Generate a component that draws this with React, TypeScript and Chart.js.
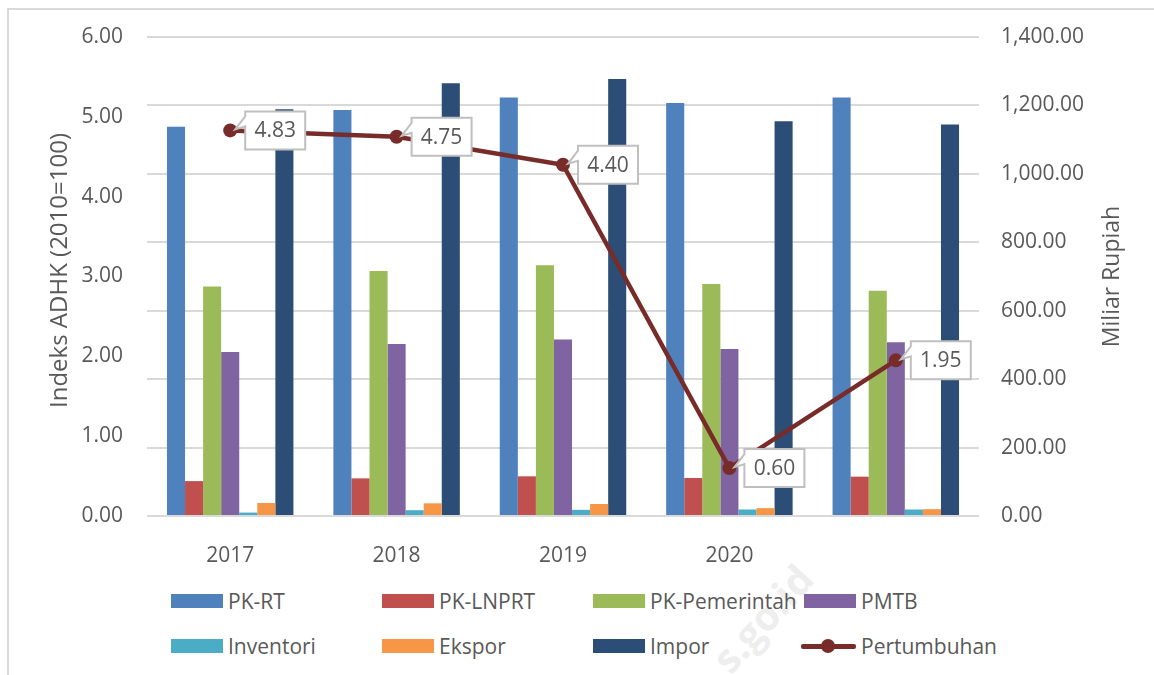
import React, { useEffect, useRef } from "react";
import { Chart, registerables } from "chart.js";

Chart.register(...registerables);

// ---- data ----
const categories = ["2017", "2018", "2019", "2020", ""];
const pkRT = [1138, 1187, 1223, 1207, 1223];
const pkLNPRT = [102, 110, 116, 111, 115];
const pkPemerintah = [671, 716, 733, 678, 658];
const pmtb = [479, 503, 516, 488, 508];
const inventori = [10, 17, 18, 19, 19];
const ekspor = [38, 37, 35, 23, 20];
const impor = [1189, 1265, 1277, 1154, 1144];
const pertumbuhan = [4.83, 4.75, 4.4, 0.6, 1.95];

const barNames = ["PK-RT", "PK-LNPRT", "PK-Pemerintah", "PMTB", "Inventori", "Ekspor", "Impor"];
const barSeries = [pkRT, pkLNPRT, pkPemerintah, pmtb, inventori, ekspor, impor];
const barColors = ["#4F81BD", "#C0504D", "#9BBB59", "#8064A2", "#4BACC6", "#F79646", "#2C4D75"];
const lineName = "Pertumbuhan";
const lineColor = "#772C2A";

const leftTitle = "Indeks ADHK (2010=100)";
const rightTitle = "Miliar Rupiah";

const FONT = "'Open Sans', sans-serif";
const TEXT = "#595959";

const axisTitlesPlugin = {
  id: "axisTitles",
  afterDraw(chart: any) {
    const ctx = chart.ctx;
    const area = chart.chartArea;
    const cy = (area.top + area.bottom) / 2;
    ctx.save();
    ctx.fillStyle = TEXT;
    ctx.font = `24px ${FONT}`;
    ctx.textAlign = "center";
    ctx.textBaseline = "middle";
    ctx.translate(60, cy - 6);
    ctx.rotate(-Math.PI / 2);
    ctx.fillText(leftTitle, 0, 0);
    ctx.restore();
    ctx.save();
    ctx.fillStyle = TEXT;
    ctx.font = `23px ${FONT}`;
    ctx.textAlign = "center";
    ctx.textBaseline = "middle";
    ctx.translate(1112, cy);
    ctx.rotate(-Math.PI / 2);
    ctx.fillText(rightTitle, 0, 0);
    ctx.restore();
  },
};

const calloutPlugin = {
  id: "callouts",
  afterDatasetsDraw(chart: any) {
    const ctx = chart.ctx;
    const idx = chart.data.datasets.findIndex((d: any) => d.type === "line");
    const meta = chart.getDatasetMeta(idx);
    const data = chart.data.datasets[idx].data;
    meta.data.forEach((pt: any, i: number) => {
      const x = pt.x;
      const y = pt.y;
      const w = 60;
      const h = 38;
      const left = x + 15;
      const top = y - h / 2;
      ctx.save();
      ctx.beginPath();
      ctx.moveTo(left, top);
      ctx.lineTo(left + w, top);
      ctx.lineTo(left + w, top + h);
      ctx.lineTo(left, top + h);
      ctx.lineTo(left, top + 15);
      ctx.lineTo(x + 5, y - 1);
      ctx.lineTo(left, top + 5);
      ctx.closePath();
      ctx.fillStyle = "#FFFFFF";
      ctx.fill();
      ctx.strokeStyle = "#BFBFBF";
      ctx.lineWidth = 2;
      ctx.stroke();
      ctx.fillStyle = TEXT;
      ctx.font = `21px ${FONT}`;
      ctx.textAlign = "center";
      ctx.textBaseline = "middle";
      ctx.fillText(Number(data[i]).toFixed(2), left + w / 2, top + h / 2 + 1);
      ctx.restore();
    });
  },
};

export default function App() {
  const ref = useRef<HTMLCanvasElement | null>(null);

  useEffect(() => {
    if (!ref.current) return;
    const datasets: any[] = barNames.map((name, i) => ({
      type: "bar",
      label: name,
      data: barSeries[i],
      backgroundColor: barColors[i],
      yAxisID: "y1",
      barPercentage: 1,
      categoryPercentage: 0.76,
      order: 1,
    }));
    datasets.push({
      type: "line",
      label: lineName,
      data: pertumbuhan,
      borderColor: lineColor,
      backgroundColor: lineColor,
      borderWidth: 4.5,
      pointRadius: 7,
      pointBackgroundColor: lineColor,
      pointBorderWidth: 0,
      tension: 0,
      yAxisID: "y",
      order: -1,
    });

    const chart = new Chart(ref.current, {
      type: "bar",
      data: { labels: categories, datasets },
      options: {
        animation: false,
        responsive: false,
        layout: { padding: { top: 37, left: 0, right: 0, bottom: 0 } },
        plugins: {
          legend: { display: false },
          tooltip: { enabled: false },
        },
        scales: {
          x: {
            grid: { display: false },
            border: { display: false },
            ticks: { color: TEXT, font: { family: FONT, size: 21 }, padding: 19, maxRotation: 0 },
            afterFit: (s: any) => {
              s.height = 54;
            },
          },
          y: {
            position: "left",
            min: 0,
            max: 6,
            grid: { display: false, drawTicks: false },
            border: { display: false },
            ticks: {
              stepSize: 1,
              padding: 24,
              color: TEXT,
              font: { family: FONT, size: 21 },
              callback: (v: any) => Number(v).toFixed(2),
            },
            afterFit: (s: any) => {
              s.width = 147;
            },
          },
          y1: {
            position: "right",
            min: 0,
            max: 1400,
            grid: { display: true, drawTicks: false, color: "#D9D9D9", lineWidth: 2 },
            border: { display: false },
            ticks: {
              stepSize: 200,
              padding: 22,
              color: TEXT,
              font: { family: FONT, size: 21 },
              callback: (v: any) =>
                Number(v).toLocaleString("en-US", { minimumFractionDigits: 2, maximumFractionDigits: 2 }),
            },
            afterFit: (s: any) => {
              s.width = 175;
            },
          },
        },
      } as any,
      plugins: [axisTitlesPlugin, calloutPlugin],
    });
    return () => chart.destroy();
  }, []);

  const legendItems = [
    ...barNames.map((n, i) => ({ name: n, color: barColors[i], line: false })),
    { name: lineName, color: lineColor, line: true },
  ];

  return (
    <div
      style={{
        position: "fixed",
        left: 0,
        top: 0,
        width: 1154,
        height: 675,
        background: "#FFFFFF",
        overflow: "hidden",
        fontFamily: FONT,
      }}
    >
      <div
        style={{
          position: "absolute",
          left: 7,
          top: 8,
          width: 1200,
          height: 700,
          borderTop: "2px solid #D9D9D9",
          borderLeft: "2px solid #D9D9D9",
        }}
      />
      <div
        style={{
          position: "absolute",
          left: 762,
          top: 618,
          transform: "translate(-50%, -50%) rotate(-48deg)",
          color: "#EEEEEE",
          fontWeight: 700,
          fontSize: 40,
          whiteSpace: "nowrap",
          fontFamily: FONT,
        }}
      >
        s.go.id
      </div>
      <canvas
        ref={ref}
        width={1154}
        height={570}
        style={{ position: "absolute", left: 0, top: 0, width: 1154, height: 570 }}
      />
      {legendItems.map((it, i) => {
        const col = i % 4;
        const row = Math.floor(i / 4);
        const sx = 171 + 211 * col;
        const cy = 601 + 45 * row;
        return (
          <div key={it.name}>
            {it.line ? (
              <>
                <div
                  style={{
                    position: "absolute",
                    left: sx - 3,
                    top: cy - 2.5,
                    width: 55,
                    height: 5,
                    borderRadius: 2,
                    background: it.color,
                  }}
                />
                <div
                  style={{
                    position: "absolute",
                    left: sx + 24 - 7,
                    top: cy - 7,
                    width: 14,
                    height: 14,
                    borderRadius: 7,
                    background: it.color,
                  }}
                />
              </>
            ) : (
              <div
                style={{
                  position: "absolute",
                  left: sx,
                  top: cy - 7,
                  width: 52,
                  height: 14,
                  background: it.color,
                }}
              />
            )}
            <div
              style={{
                position: "absolute",
                left: sx + 57,
                top: cy - 15,
                height: 30,
                lineHeight: "30px",
                fontSize: 21,
                color: TEXT,
                whiteSpace: "nowrap",
                fontFamily: FONT,
              }}
            >
              {it.name}
            </div>
          </div>
        );
      })}
    </div>
  );
}
